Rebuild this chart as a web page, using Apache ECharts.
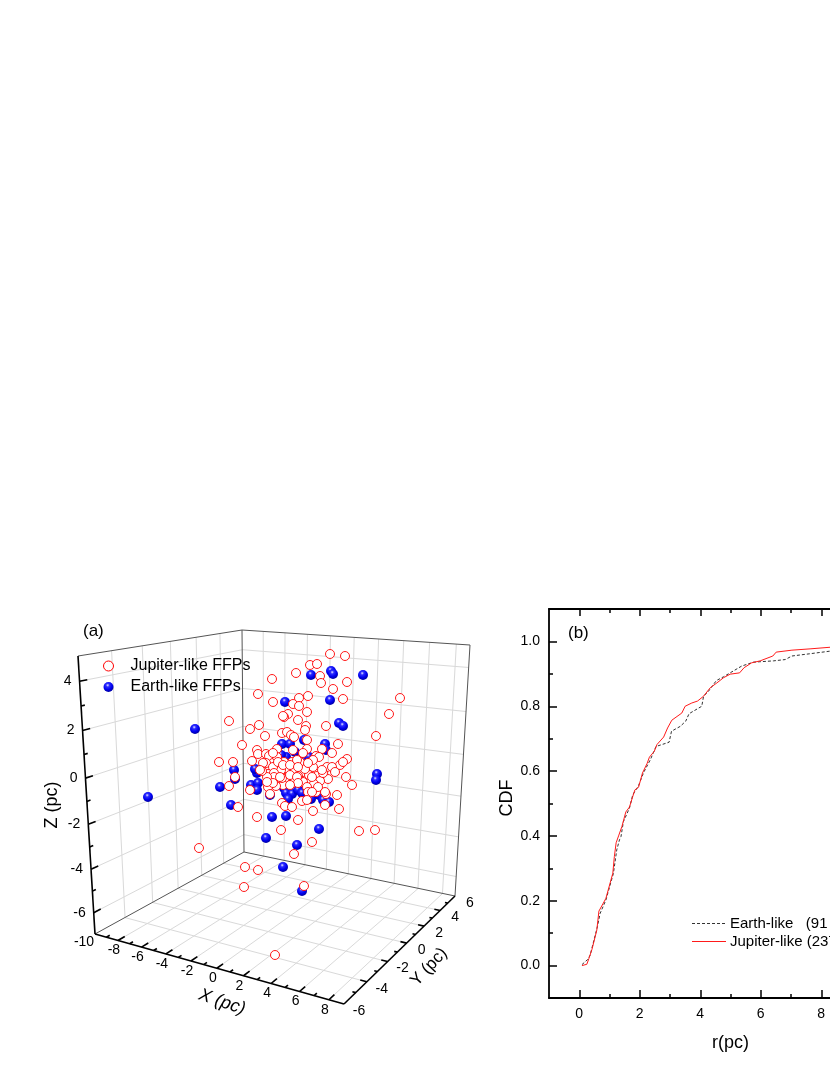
<!DOCTYPE html>
<html>
<head>
<meta charset="utf-8">
<style>html,body{margin:0;padding:0;background:#fff}#main{width:830px;height:1075px}</style>
<script src="https://cdn.jsdelivr.net/npm/echarts@6/dist/echarts.min.js"></script>
</head>
<body>
<div id="main"></div>
<script>
// (a) points, read off the figure as positions on the viewing plane (no 3D depth can be read)
const jupiterU = [4.0,5.5,2.0,2.7,0.6,3.0,-1.8,3.1,5.7,4.3,-3.2,-1.7,0.9,1.8,0.3,0.9,5.3,11.0,9.9,1.7,-0.2,-0.6,-0.7,0.8,1.6,3.6,-6.1,-3.1,-4.0,1.5,-0.8,-0.3,0.1,0.4,-2.5,8.6,1.7,4.8,-4.8,1.7,-3.3,-3.2,-2.4,-2.1,-1.3,0.3,4.2,3.2,1.3,2.6,2.9,5.7,-3.8,-1.7,-2.4,-2.7,5.0,5.3,3.7,4.2,2.3,0.2,1.2,-0.2,-0.9,0.5,-1.7,-2.2,-1.6,-0.5,1.3,1.9,2.7,4.5,5.6,3.8,3.0,-1.5,1.3,0.3,2.4,-0.7,-1.4,-2.2,6.2,1.7,-4.0,1.8,2.6,-2.0,3.6,4.7,-0.8,-0.5,0.2,1.2,1.7,3.5,2.3,4.9,-3.3,0.8,-0.9,6.9,8.5,-7.1,-5.7,-5.5,-6.1,-5.2,-9.1,-4.5,-3.2,-4.6,-1.5,2.2,0.4,1.4,1.5,1.0,0.5,-0.8,-1.6,-2.3,3.5,-0.6,-1.3,0.7,0.8,-2.8,2.3,3.3,-1.7,-1.2,-0.7,0.0,0.8,-1.0,0.0,0.7,0.8,0.0,-1.7,2.2,2.8,2.2,-3.0,-2.3,3.2,1.8];
const jupiterV = [12.3,12.1,11.2,11.3,10.4,10.1,9.8,9.4,9.5,8.8,8.3,7.5,7.9,8.1,7.3,7.1,7.8,7.9,6.3,6.5,6.3,6.0,6.1,5.7,5.1,5.1,5.6,5.2,4.8,4.7,4.4,4.5,4.2,4.0,4.1,4.1,3.7,3.3,3.2,2.8,2.7,2.3,2.3,2.1,2.8,2.7,2.4,2.8,2.4,2.1,2.0,1.8,1.6,1.4,1.4,1.4,1.2,1.5,1.0,1.0,1.0,1.5,1.3,0.8,0.7,0.7,1.0,0.3,0.4,-0.1,0.5,0.2,0.1,0.5,0.0,-0.2,-0.4,-0.1,-0.5,-0.6,-0.7,-0.8,-0.9,-1.0,-0.8,-1.0,-1.3,-1.5,-1.5,-1.7,-1.7,-1.8,-2.6,-2.9,-3.0,-2.4,-2.3,-2.8,-3.4,-3.2,-4.0,-4.3,-5.3,-5.4,-5.3,1.5,1.5,0.0,-0.9,-3.0,-7.1,-9.0,-9.3,-11.0,-17.8,-6.5,-7.7,-10.9,0.8,1.5,-0.3,-0.1,0.0,0.0,-1.5,1.5,2.0,1.7,0.1,0.6,1.7,0.4,2.4,1.5,1.2,1.2,1.0,0.0,0.2,0.0,-0.6,-0.8,-0.6,0.0,-1.0,-1.5,0.7,-0.5,0.7,1.4];
const earthU = [-9.5,-14.2,-7.0,-5.9,-5.6,-5.5,-0.5,-1.8,-0.4,-3.9,-3.2,-3.3,-3.5,-3.3,-0.8,-0.4,2.1,4.1,4.3,7.3,4.0,4.9,5.3,0.0,-0.9,0.5,1.5,1.9,1.4,3.5,3.6,8.7,8.6,-2.0,-0.6,-0.4,0.2,0.8,1.2,-0.2,2.1,3.0,2.9,3.3,3.9,2.9,-2.4,-0.7,0.7,1.2];
const earthV = [4.8,-2.0,-1.0,-2.8,0.7,-0.2,7.5,-4.0,-3.9,-0.8,-0.6,0.4,0.8,-1.3,3.3,2.0,10.2,10.6,10.3,10.2,7.7,5.4,5.1,3.3,2.2,2.5,1.8,2.0,3.7,3.3,2.7,0.3,-0.3,-1.8,-1.1,-1.6,-1.7,-1.3,-1.6,-2.2,-2.2,-0.1,-1.8,-2.3,-2.5,-5.2,-6.1,-9.0,-6.8,-11.4];

const xTicks3d = [-8,-6,-4,-2,0,2,4,6,8];
const yTicks3d = [-6,-4,-2,0,2,4,6];
const zTicks3d = [-6,-4,-2,0,2,4];

// (b) cumulative curves
const earthR = [0.09,0.28,0.36,0.6,0.69,0.88,1.13,1.24,1.33,1.38,1.46,1.66,1.77,1.96,2.13,2.35,2.54,2.97,3.05,3.34,3.52,3.63,4.05,4.11,4.27,4.53,4.77,5.37,5.76,6.42,6.81,7.03,7.63,8.29,8.6];
const earthCdf = [0.003,0.019,0.032,0.12,0.161,0.202,0.285,0.357,0.388,0.398,0.444,0.486,0.527,0.555,0.596,0.635,0.676,0.689,0.723,0.738,0.754,0.777,0.8,0.831,0.846,0.879,0.891,0.924,0.936,0.94,0.944,0.955,0.962,0.97,0.972];
const jupiterR = [0.09,0.25,0.32,0.42,0.58,0.65,0.88,1.11,1.16,1.22,1.3,1.41,1.54,1.66,1.77,1.84,1.96,2.09,2.24,2.32,2.48,2.57,2.79,2.92,3.06,3.39,3.5,3.72,3.91,4.11,4.33,4.55,4.77,4.99,5.3,5.45,5.7,5.98,6.4,6.51,7.03,7.63,8.29,8.6];
const jupiterCdf = [0,0.004,0.022,0.05,0.109,0.168,0.207,0.285,0.336,0.379,0.4,0.429,0.474,0.489,0.522,0.542,0.55,0.594,0.623,0.643,0.661,0.682,0.705,0.733,0.757,0.779,0.8,0.81,0.816,0.831,0.857,0.872,0.888,0.899,0.903,0.919,0.934,0.94,0.955,0.967,0.973,0.977,0.982,0.983];

const majorR = [0,2,4,6,8,10];
const minorR = [1,3,5,7,9];
const majorCdf = [0,0.2,0.4,0.6,0.8,1];
const minorCdf = [0.1,0.3,0.5,0.7,0.9];

const fontName = '"Liberation Sans", Arial, sans-serif';
const earthLine = '#333', jupiterLine = '#ff1a1a';

// box corners on the viewing plane
const corner = {
  frontLeftLow: [-19.5,-15.7], frontLeftHigh: [-21.2,12.1],
  backLow: [-4.6,-7.5], backHigh: [-4.8,14.7],
  rightLow: [16.5,-11.9], rightHigh: [18.0,13.2],
  frontLow: [5.4,-22.7]
};

// perspective map of the unit square onto a face of the box
function faceMap(p00, p10, p11, p01) {
  const dx1 = p10[0]-p11[0], dx2 = p01[0]-p11[0], sx = p00[0]-p10[0]+p11[0]-p01[0];
  const dy1 = p10[1]-p11[1], dy2 = p01[1]-p11[1], sy = p00[1]-p10[1]+p11[1]-p01[1];
  const den = dx1*dy2-dx2*dy1;
  const g = (sx*dy2-dx2*sy)/den, h = (dx1*sy-sx*dy1)/den;
  const a = p10[0]-p00[0]+g*p10[0], b = p01[0]-p00[0]+h*p01[0];
  const d = p10[1]-p00[1]+g*p10[1], e = p01[1]-p00[1]+h*p01[1];
  return (s,t) => {
    const w = g*s+h*t+1;
    return [(a*s+b*t+p00[0])/w, (d*s+e*t+p00[1])/w];
  };
}
const sX = x => (x+10)/19, sY = y => (y+6)/12, sZ = z => (z+7)/12;
const floorMap = faceMap(corner.frontLeftLow, corner.frontLow, corner.rightLow, corner.backLow);
const leftMap = faceMap(corner.frontLeftLow, corner.backLow, corner.backHigh, corner.frontLeftHigh);
const backMap = faceMap(corner.backLow, corner.rightLow, corner.rightHigh, corner.backHigh);
const onFloor = (x,y) => floorMap(sX(x), sY(y));
const onLeft = (y,z) => leftMap(sY(y), sZ(z));
const onBack = (x,z) => backMap(sX(x), sZ(z));
const seg = (p,q) => [p[0],p[1],q[0],q[1]];

let gridSegs = [];
xTicks3d.forEach(x => {
  gridSegs.push(seg(onFloor(x,-6), onFloor(x,6)));
  gridSegs.push(seg(onBack(x,-7), onBack(x,5)));
});
yTicks3d.slice(1,-1).forEach(y => {
  gridSegs.push(seg(onFloor(-10,y), onFloor(9,y)));
  gridSegs.push(seg(onLeft(y,-7), onLeft(y,5)));
});
zTicks3d.forEach(z => {
  gridSegs.push(seg(onLeft(-6,z), onLeft(6,z)));
  gridSegs.push(seg(onBack(-10,z), onBack(9,z)));
});

const c = corner;
const thinSegs = [seg(c.frontLeftLow,c.backLow), seg(c.backLow,c.rightLow), seg(c.backLow,c.backHigh),
  seg(c.frontLeftHigh,c.backHigh), seg(c.backHigh,c.rightHigh), seg(c.rightHigh,c.rightLow)];

let axisSegs = [seg(c.frontLeftLow,c.frontLeftHigh), seg(c.frontLeftLow,c.frontLow), seg(c.frontLow,c.rightLow)];
for (let x = -9; x <= 8; x++) axisSegs.push(seg(onFloor(x,-6), onFloor(x, x%2 ? -5.78 : -5.55)));
for (let y = -5; y <= 5; y++) axisSegs.push(seg(onFloor(9,y), onFloor(y%2 ? 8.78 : 8.55, y)));
for (let z = -6; z <= 4; z++) axisSegs.push(seg(onLeft(-6,z), onLeft(z%2 ? -5.78 : -5.55, z)));

function lineSeries(segs, color, width) {
  return {
    type: 'custom', coordinateSystem: 'cartesian2d', xAxisIndex: 0, yAxisIndex: 0, silent: true, clip: false,
    data: segs,
    renderItem: (params, api) => {
      const a = api.coord([api.value(0), api.value(1)]);
      const b = api.coord([api.value(2), api.value(3)]);
      return {type:'line', shape:{x1:a[0],y1:a[1],x2:b[0],y2:b[1]}, style:{stroke:color, lineWidth:width}};
    }
  };
}

function labelSeries(items) {
  return {
    type: 'custom', coordinateSystem: 'cartesian2d', xAxisIndex: 0, yAxisIndex: 0, silent: true, clip: false,
    data: items.map(d => [d.pos[0], d.pos[1]]),
    renderItem: (params, api) => {
      const it = items[params.dataIndex];
      const a = api.coord([api.value(0), api.value(1)]);
      return {type:'text', style:{text:it.text, x:a[0]+it.dx, y:a[1]+it.dy, fill:'#000',
        font:'14px '+fontName, align:it.align||'center', verticalAlign:'middle'}};
    }
  };
}

let tickLabels = [];
xTicks3d.forEach(x => tickLabels.push({text:String(x), pos:onFloor(x,-6), dx:-4, dy:10}));
tickLabels.push({text:'-10', pos:onFloor(-10,-6), dx:-11, dy:8});
yTicks3d.forEach(y => tickLabels.push({text:String(y), pos:onFloor(9,y), dx:15, dy:7}));
zTicks3d.forEach(z => tickLabels.push({text:String(z), pos:onLeft(-6,z), dx:-8, dy:0, align:'right'}));

const zip = (a,b) => a.map((v,i) => [v,b[i]]);

const ballFill = {type:'radial', x:0.42, y:0.32, r:0.62, colorStops:[
  {offset:0,color:'#e6e6ff'},{offset:0.28,color:'#2c2cff'},{offset:0.7,color:'#0000f0'},{offset:1,color:'#0000b0'}]};

function panelBx(customTicks, len, pos, extra) {
  return Object.assign({
    type:'value', gridIndex:1, min:-1, max:11, position:pos, splitLine:{show:false},
    axisLine:{show:false, onZero:false},
    axisTick:{show:true, inside:true, length:len, customValues:customTicks, lineStyle:{color:'#000',width:1.5}},
    axisLabel:{show:false}
  }, extra||{});
}
function panelBy(customTicks, len, extra) {
  return Object.assign({
    type:'value', gridIndex:1, min:-0.1, max:1.1, position:'left', splitLine:{show:false},
    axisLine:{show:false, onZero:false},
    axisTick:{show:true, inside:true, length:len, customValues:customTicks, lineStyle:{color:'#000',width:1.5}},
    axisLabel:{show:false}
  }, extra||{});
}
const spine = {show:true, onZero:false, lineStyle:{color:'#000',width:1.8}};

let myChart = echarts.init(document.querySelector('#main'), null, {width:830, height:1075, renderer:'canvas'});

let option = {
  animation: false,
  backgroundColor: '#fff',
  textStyle: {fontFamily: fontName},
  grid: [
    {left:0, top:600, width:480, height:440, outerBoundsMode:'none'},
    {left:549, top:609, width:363, height:389, outerBoundsMode:'none'}
  ],
  xAxis: [
    {type:'value', gridIndex:0, min:-29, max:19, show:false},
    panelBx(majorR, 8, 'bottom', {
      axisLine:spine,
      axisLabel:{show:true, customValues:majorR.slice(0,-1), fontSize:14, color:'#000', margin:9},
      name:'r(pc)', nameLocation:'middle', nameGap:36, nameTextStyle:{fontSize:18, color:'#000'}
    }),
    panelBx(minorR, 4, 'bottom'),
    panelBx(majorR, 7, 'top', {axisLine:spine}),
    panelBx(minorR, 4, 'top')
  ],
  yAxis: [
    {type:'value', gridIndex:0, min:-26.3, max:17.7, show:false},
    panelBy(majorCdf, 8, {
      axisLine:spine,
      axisLabel:{show:true, customValues:majorCdf, fontSize:14, color:'#000', margin:9, formatter:v => v.toFixed(1)}
    }),
    panelBy(minorCdf, 4)
  ],
  legend: [
    {
      data:['Jupiter-like FFPs','Earth-like FFPs'], orient:'vertical', left:103, top:658, padding:0,
      itemWidth:10, itemHeight:10, itemGap:5, selectedMode:false,
      itemStyle:{borderWidth:1},
      textStyle:{fontSize:16, color:'#000', padding:[0,0,0,12]}
    },
    {
      // the key lines are drawn in graphic below, the legend icon cannot keep a 1px coloured line
      data:['Earth-like   (91','Jupiter-like (237)'],
      orient:'vertical', left:692, top:916, padding:0,
      itemWidth:33, itemHeight:14, itemGap:3, selectedMode:false, icon:'none',
      textStyle:{fontSize:15, color:'#000'}
    }
  ],
  graphic: [
    {type:'text', left:83, top:623, style:{text:'(a)', font:'17px '+fontName, fill:'#000'}},
    {type:'text', left:568, top:625, style:{text:'(b)', font:'17px '+fontName, fill:'#000'}},
    {type:'text', x:52, y:805, rotation:Math.PI/2, style:{text:'Z (pc)', font:'18px '+fontName, fill:'#000', align:'center', verticalAlign:'middle'}},
    {type:'text', x:507, y:798, rotation:Math.PI/2, style:{text:'CDF', font:'18px '+fontName, fill:'#000', align:'center', verticalAlign:'middle'}},
    {type:'text', x:222, y:1002, rotation:-0.33, style:{text:'X (pc)', font:'italic 18px '+fontName, fill:'#000', align:'center', verticalAlign:'middle'}},
    {type:'text', x:429, y:967, rotation:0.82, style:{text:'Y (pc)', font:'17px '+fontName, fill:'#000', align:'center', verticalAlign:'middle'}},
    {type:'line', shape:{x1:692,y1:923.5,x2:726,y2:923.5}, style:{stroke:earthLine, lineWidth:1, lineDash:[3,2]}},
    {type:'line', shape:{x1:692,y1:941.5,x2:726,y2:941.5}, style:{stroke:jupiterLine, lineWidth:1}}
  ],
  series: [
    lineSeries(gridSegs, '#d9d9d9', 1),
    lineSeries(thinSegs, '#555', 1),
    lineSeries(axisSegs, '#000', 1.6),
    labelSeries(tickLabels),
    {
      name:'Earth-like FFPs', type:'scatter', xAxisIndex:0, yAxisIndex:0, symbol:'circle', symbolSize:10,
      itemStyle:{color:ballFill, opacity:1}, data:zip(earthU, earthV)
    },
    {
      name:'Jupiter-like FFPs', type:'scatter', xAxisIndex:0, yAxisIndex:0, symbol:'circle', symbolSize:9,
      itemStyle:{color:'#fff', borderColor:'#ff0000', borderWidth:0.9, opacity:1}, data:zip(jupiterU, jupiterV)
    },
    {
      name:'Earth-like   (91', type:'line', xAxisIndex:1, yAxisIndex:1, showSymbol:false, symbol:'none',
      lineStyle:{color:earthLine, width:1, type:[3,2]}, itemStyle:{color:earthLine}, data:zip(earthR, earthCdf)
    },
    {
      name:'Jupiter-like (237)', type:'line', xAxisIndex:1, yAxisIndex:1, showSymbol:false, symbol:'none',
      lineStyle:{color:jupiterLine, width:1}, itemStyle:{color:jupiterLine}, data:zip(jupiterR, jupiterCdf)
    }
  ]
};
myChart.setOption(option);
</script>
</body>
</html>
